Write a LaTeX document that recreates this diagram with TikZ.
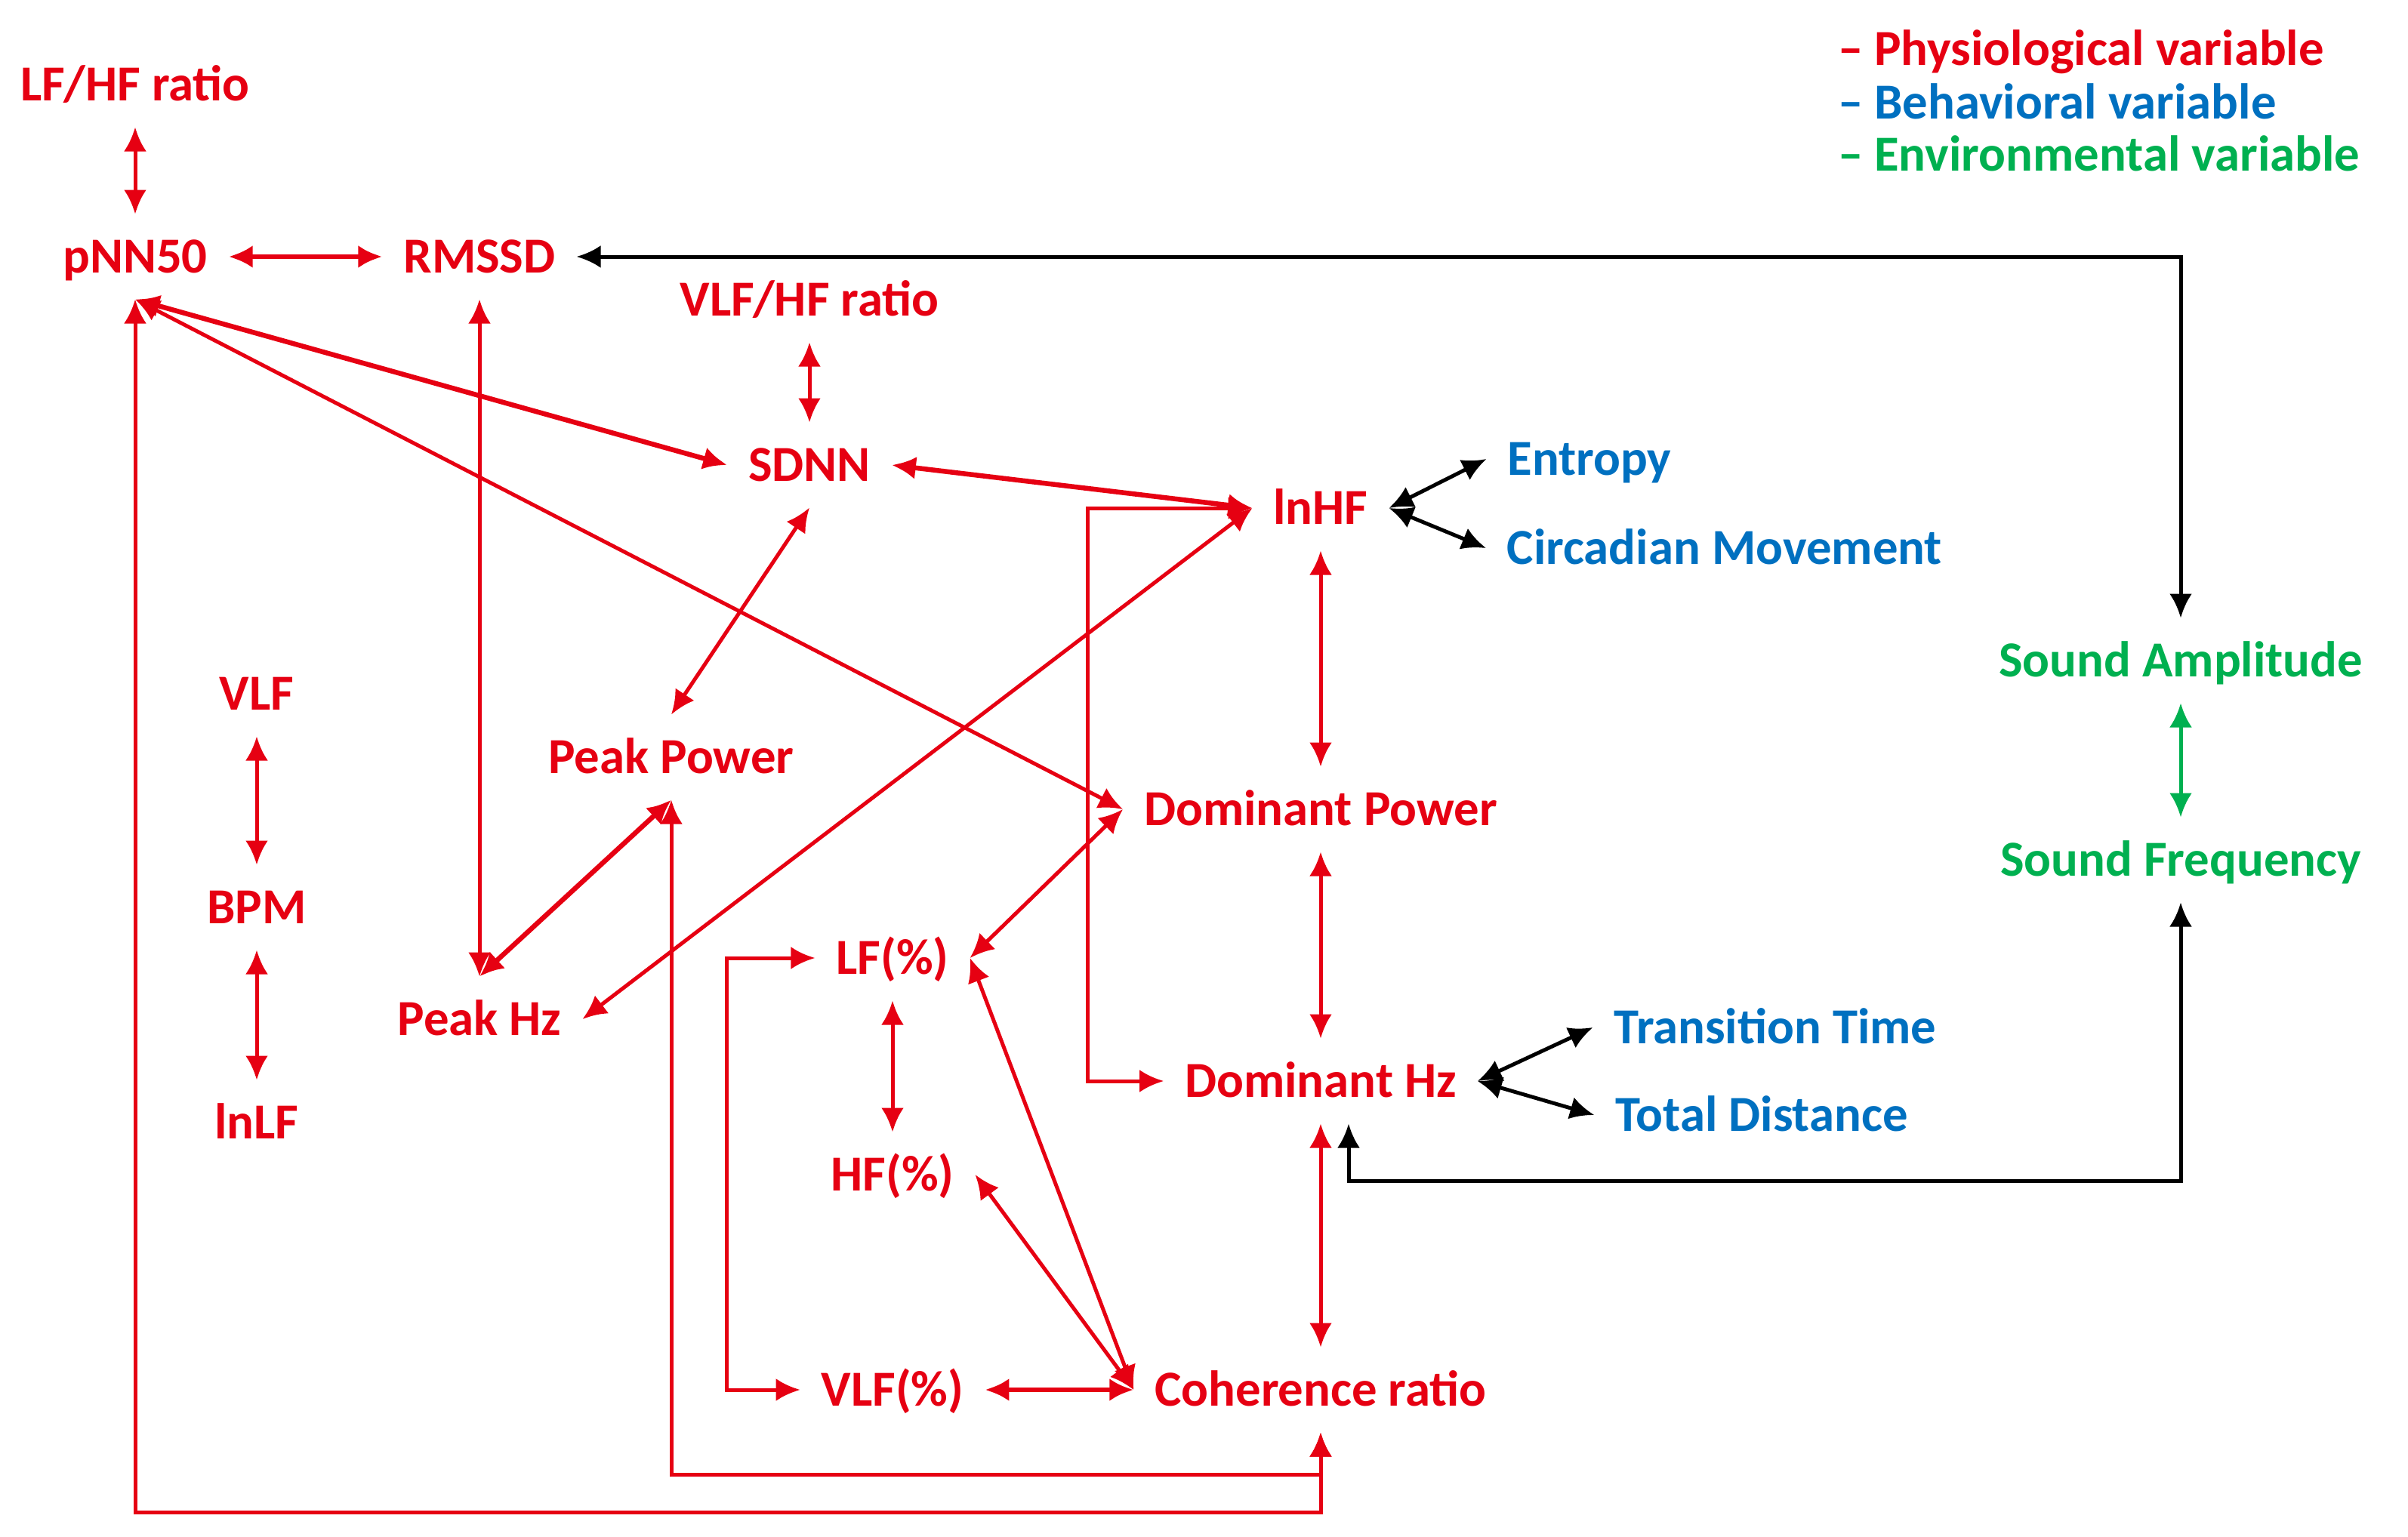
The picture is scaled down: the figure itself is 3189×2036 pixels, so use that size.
\documentclass[tikz,border=0pt]{standalone}
\usepackage{fontspec}
\setmainfont{Carlito}
\usepackage{xcolor}
\usetikzlibrary{arrows.meta}
\definecolor{physred}{RGB}{230,0,18}
\definecolor{behblue}{RGB}{0,112,192}
\definecolor{envgreen}{RGB}{0,176,80}
\tikzset{
  var/.style={font=\fontsize{19}{23}\selectfont\bfseries, inner sep=0pt, outer sep=2.8mm, text height=5mm, text depth=0.7mm},
  phys/.style={var, text=physred},
  beh/.style={var, text=behblue},
  env/.style={var, text=envgreen},
  rel/.style={{Latex[length=3.2mm,width=3mm]}-{Latex[length=3.2mm,width=3mm]}, line width=0.5mm},
  redrel/.style={rel, draw=physred},
  blkrel/.style={rel, draw=black},
  grnrel/.style={rel, draw=envgreen}
}

\begin{document}
\begin{tikzpicture}[x=0.1mm, y=-0.1mm]
  \useasboundingbox (0,0) rectangle (3189,2036);
  \node[phys] (lfhf) at (179,112) {LF/HF ratio};
  \node[phys] (pnn) at (179,340) {pNN50};
  \node[phys] (rmssd) at (635,340) {RMSSD};
  \node[phys] (vlfhf) at (1072,397) {VLF/HF ratio};
  \node[phys] (sdnn) at (1072,616) {SDNN};
  \node[phys] (lnhf) at (1749,673) {lnHF};
  \node[beh] (entropy) at (2105,608) {Entropy};
  \node[beh] (circ) at (2284,726) {Circadian Movement};
  \node[env] (sa) at (2888,875) {Sound Amplitude};
  \node[env] (sf) at (2888,1139) {Sound Frequency};
  \node[phys] (vlf) at (340,919) {VLF};
  \node[phys] (bpm) at (340,1202) {BPM};
  \node[phys] (lnlf) at (340,1487) {lnLF};
  \node[phys] (peakpow) at (889,1003) {Peak Power};
  \node[phys] (peakhz) at (635,1350) {Peak Hz};
  \node[phys] (dompow) at (1749,1072) {Dominant Power};
  \node[phys] (lfp) at (1182,1269) {LF(\%)};
  \node[phys] (hfp) at (1182,1556) {HF(\%)};
  \node[phys] (vlfp) at (1182,1841) {VLF(\%)};
  \node[phys] (coh) at (1749,1841) {Coherence ratio};
  \node[phys] (domhz) at (1749,1432) {Dominant Hz};
  \node[beh] (trans) at (2351,1361) {Transition Time};
  \node[beh] (dist) at (2333,1477) {Total Distance};
  \node[phys, anchor=west, outer sep=0pt] (legphys) at (2434,65) {– Physiological variable};
  \node[beh, anchor=west, outer sep=0pt] (legbeh) at (2434,136) {– Behavioral variable};
  \node[env, anchor=west, outer sep=0pt] (legenv) at (2434,205) {– Environmental variable};
  \coordinate (low) at (0,2003);
  \coordinate (mid) at (0,1953);

  \draw[redrel] (lfhf.south) -- (pnn.north);
  \draw[redrel, line width=0.65mm] (pnn.east) -- (rmssd.west);
  \draw[blkrel] (rmssd.east) -| (sa.north);
  \draw[redrel] (vlfhf.south) -- (sdnn.north);
  \draw[redrel, line width=0.65mm] (pnn.south) -- (sdnn.west);
  \draw[redrel] (pnn.south) -- (dompow.west);
  \draw[redrel] (pnn.south) |- (coh.south |- low) -- (coh.south);
  \draw[redrel] (rmssd.south) -- (peakhz.north);
  \draw[redrel] (sdnn.south) -- (peakpow.north);
  \draw[redrel, line width=0.65mm] (sdnn.east) -- (lnhf.west);
  \draw[redrel] (lnhf.west) -- (peakhz.east);
  \draw[redrel] (lnhf.west) -- ++(-218,0) |- (domhz.west);
  \draw[redrel] (lnhf.south) -- (dompow.north);
  \draw[blkrel] (lnhf.east) -- (entropy.west);
  \draw[blkrel] (lnhf.east) -- (circ.west);
  \draw[grnrel] (sa.south) -- (sf.north);
  \draw[blkrel] (sf.south) -- ++(0,369) -| ([xshift=3.7mm]domhz.south);
  \draw[redrel] (vlf.south) -- (bpm.north);
  \draw[redrel] (bpm.south) -- (lnlf.north);
  \draw[redrel, line width=0.65mm] (peakpow.south) -- (peakhz.north);
  \draw[redrel] (peakpow.south) |- (coh.south |- mid) -- (coh.south);
  \draw[redrel] (dompow.west) -- (lfp.east);
  \draw[redrel] (dompow.south) -- (domhz.north);
  \draw[redrel] (lfp.west) -- ++(-117,0) |- (vlfp.west);
  \draw[redrel] (lfp.south) -- (hfp.north);
  \draw[redrel] (lfp.east) -- (coh.west);
  \draw[redrel] (hfp.east) -- (coh.west);
  \draw[redrel, line width=0.65mm] (vlfp.east) -- (coh.west);
  \draw[redrel] (domhz.south) -- (coh.north);
  \draw[blkrel] (domhz.east) -- (trans.west);
  \draw[blkrel] (domhz.east) -- (dist.west);
\end{tikzpicture}
\end{document}
